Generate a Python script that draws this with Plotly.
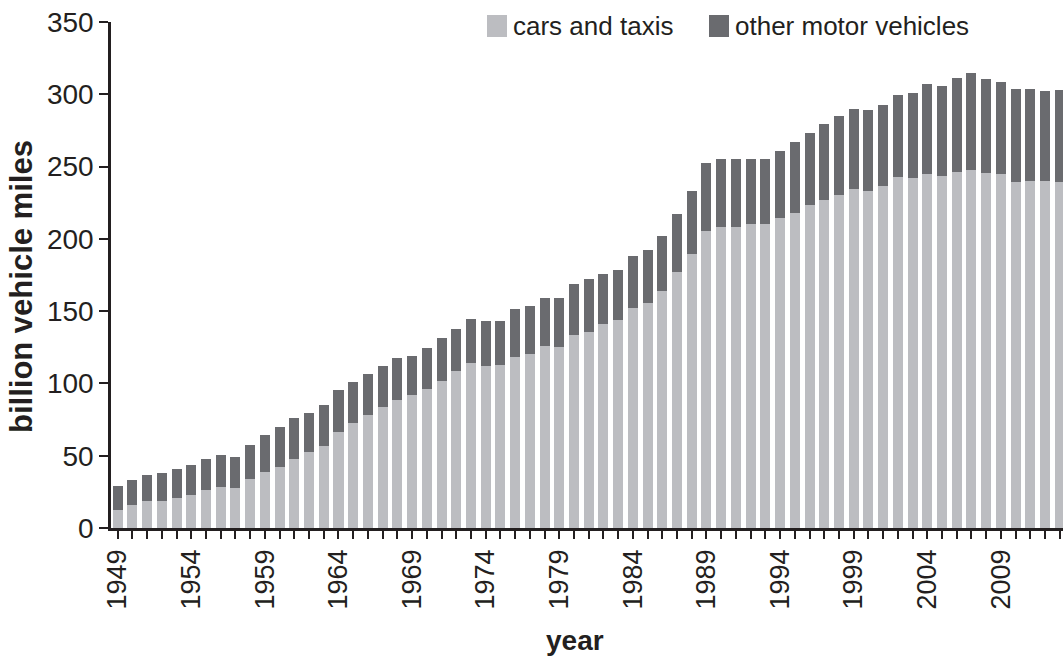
import plotly.graph_objects as go

years = list(range(1949, 2014))

cars_and_taxis = [
    12.7, 16.1, 18.9, 18.9, 21.0, 23.0, 26.5, 28.6, 27.9, 34.1,
    38.9, 42.4, 47.9, 52.7, 56.9, 66.6, 72.8, 78.3, 83.8, 88.7,
    92.1, 96.3, 101.8, 108.7, 114.2, 112.2, 112.8, 118.4, 120.4, 126.0,
    125.3, 133.6, 135.6, 141.2, 143.9, 152.2, 155.7, 164.0, 177.1, 189.5,
    205.4, 208.2, 208.2, 210.3, 210.3, 214.4, 217.9, 223.4, 226.9, 230.3,
    234.4, 233.1, 236.5, 242.7, 242.0, 244.8, 243.4, 246.2, 247.6, 245.5,
    244.8, 239.3, 240.0, 240.0, 239.3,
]

all_motor_vehicles = [
    29.2, 33.4, 36.8, 38.2, 41.0, 43.8, 47.9, 50.7, 49.3, 57.6,
    64.5, 70.0, 76.2, 79.7, 85.2, 95.6, 101.1, 106.6, 112.2, 117.7,
    119.1, 124.6, 131.5, 137.7, 144.6, 143.2, 143.2, 151.5, 153.6, 159.1,
    159.1, 168.8, 172.3, 175.7, 178.5, 188.2, 192.3, 202.0, 217.2, 233.1,
    252.4, 255.2, 255.2, 255.2, 255.2, 261.0, 267.0, 273.0, 279.4, 284.9,
    289.7, 289.0, 292.5, 299.4, 300.8, 307.0, 305.6, 311.1, 314.6, 310.4,
    308.4, 303.5, 303.5, 302.2, 302.8,
]

other_motor_vehicles = [round(t - c, 1) for t, c in zip(all_motor_vehicles, cars_and_taxis)]

label_years = list(range(1949, 2014, 5))

LIGHT = "#bcbdc1"
DARK = "#6a6b6f"
INK = "#231f20"
FONT = "Liberation Sans, Arial, Helvetica, sans-serif"

fig = go.Figure()
fig.add_trace(go.Bar(x=years, y=cars_and_taxis, name="cars and taxis",
                     marker=dict(color=LIGHT, line=dict(width=0))))
fig.add_trace(go.Bar(x=years, y=other_motor_vehicles, name="other motor vehicles",
                     marker=dict(color=DARK, line=dict(width=0))))

W, H = 1063, 657
L, R, T, B = 111, 0, 22, 129
pw, ph = W - L - R, H - T - B

def px(x):
    return (x - L) / pw

def py(y):
    return (H - B - y) / ph

fig.update_layout(
    width=W, height=H,
    margin=dict(l=L, r=R, t=T, b=B),
    barmode="stack",
    bargap=0.32,
    showlegend=False,
    plot_bgcolor="white",
    paper_bgcolor="white",
    font=dict(family=FONT, size=26, color=INK),
    xaxis=dict(
        range=[1948.545, 2013.22],
        tickmode="array", tickvals=label_years,
        ticktext=[str(y) for y in label_years],
        tickangle=-90,
        ticks="outside", ticklen=8, tickwidth=2, tickcolor=INK,
        minor=dict(ticks="outside", dtick=1, tick0=1949, ticklen=8, tickwidth=2, tickcolor=INK),
        showline=True, linewidth=2.5, linecolor=INK,
        showgrid=False, zeroline=False,
        tickfont=dict(size=27, color=INK, family=FONT),
    ),
    yaxis=dict(
        range=[0, 350], dtick=50, tick0=0,
        ticks="outside", ticklen=9, tickwidth=2, tickcolor=INK,
        showline=True, linewidth=2.5, linecolor=INK,
        showgrid=False, zeroline=False,
        tickfont=dict(size=28, color=INK, family=FONT),
    ),
)

# axis titles
fig.add_annotation(text="<b>billion vehicle miles</b>", xref="paper", yref="paper",
                   x=px(21), y=py(287), textangle=-90, showarrow=False,
                   xanchor="center", yanchor="middle",
                   font=dict(size=31, color=INK, family=FONT))
fig.add_annotation(text="<b>year</b>", xref="paper", yref="paper",
                   x=px(575), y=py(640), showarrow=False,
                   xanchor="center", yanchor="middle",
                   font=dict(size=28, color=INK, family=FONT))

# legend (manual, to match swatch size)
legend_items = [("cars and taxis", LIGHT, 487), ("other motor vehicles", DARK, 709)]
for label, color, x0 in legend_items:
    fig.add_shape(type="rect", xref="paper", yref="paper",
                  x0=px(x0), x1=px(x0 + 20), y0=py(37), y1=py(15),
                  fillcolor=color, line=dict(width=0))
    fig.add_annotation(text=label, xref="paper", yref="paper",
                       x=px(x0 + 24), y=py(26), showarrow=False,
                       xanchor="left", yanchor="middle",
                       font=dict(size=26, color=INK, family=FONT))

fig.write_html("out.html",
               config={"displayModeBar": False},
               post_script="document.body.style.margin='0';document.body.style.overflow='hidden';")
